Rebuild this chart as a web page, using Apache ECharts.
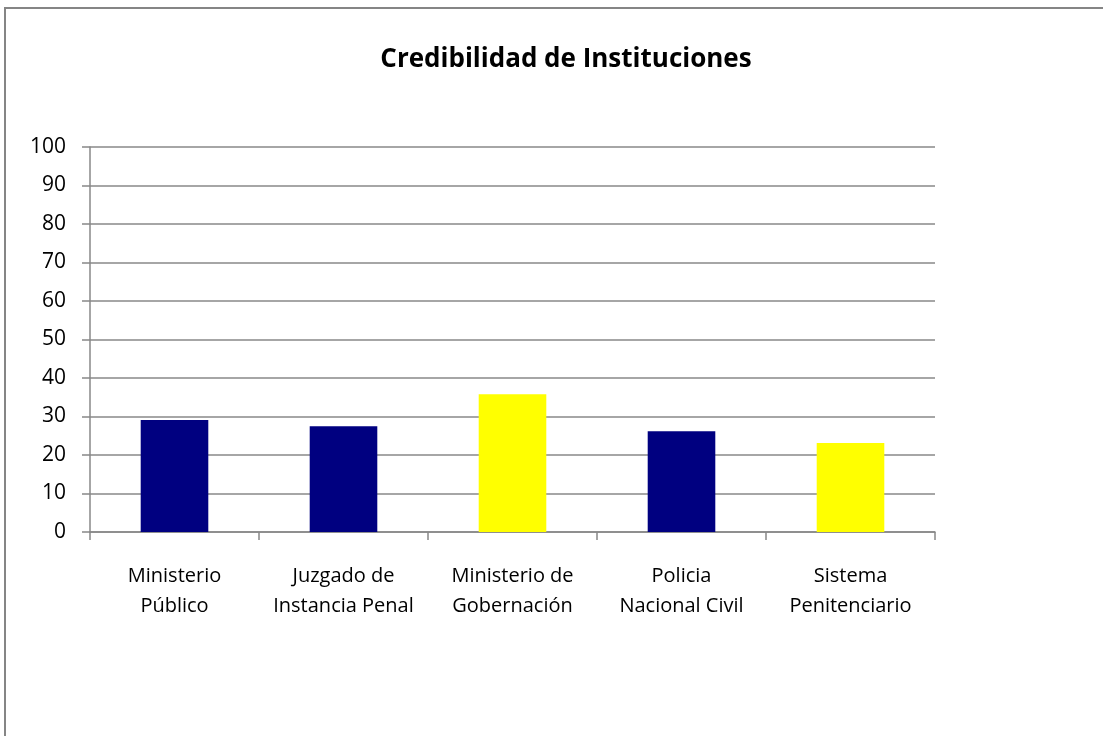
<!DOCTYPE html>
<html>
<head>
<meta charset="UTF-8">
<title>Credibilidad de Instituciones</title>
<script src="https://cdn.jsdelivr.net/npm/echarts@6/dist/echarts.min.js"></script>
<style>
  html, body { margin: 0; padding: 0; background: #fff; overflow: hidden; }
  #frame {
    position: absolute; left: 4px; top: 7px; width: 1200px; height: 900px;
    border: 2px solid #858585; box-sizing: border-box;
  }
  #chart { position: absolute; left: 0; top: 0; width: 1103px; height: 736px; }
</style>
</head>
<body>
<div id="frame"></div>
<div id="chart"></div>
<script>
// datos
var categorias = ['Ministerio\nPúblico', 'Juzgado de\nInstancia Penal', 'Ministerio de\nGobernación', 'Policia\nNacional Civil', 'Sistema\nPenitenciario'];
var valores = [29.1, 27.5, 35.8, 26.2, 23.1];
var colores = ['#000080', '#000080', '#ffff00', '#000080', '#ffff00'];

var chart = echarts.init(document.getElementById('chart'));
var barData = [];
for (var i = 0; i < valores.length; i++) {
  barData.push({ value: valores[i], itemStyle: { color: colores[i] } });
}
chart.setOption({
  animation: false,
  title: {
    text: 'Credibilidad de Instituciones',
    left: 561, top: 42, textAlign: 'center',
    textStyle: { fontFamily: 'Open Sans', fontWeight: 'bold', fontSize: 26, color: '#000' }
  },
  grid: { left: 90, right: 168, top: 147, bottom: 204 },
  xAxis: {
    type: 'category',
    data: categorias,
    axisLine: { lineStyle: { color: '#888', width: 1.5 } },
    axisTick: { show: true, length: 8, lineStyle: { color: '#888', width: 1.5 } },
    axisLabel: {
      color: '#000', fontSize: 20, fontFamily: 'Open Sans', lineHeight: 30,
      margin: 29, interval: 0
    }
  },
  yAxis: {
    type: 'value', min: 0, max: 100, interval: 10,
    axisLine: { show: true, lineStyle: { color: '#888', width: 1.5 } },
    axisTick: { show: true, length: 8, lineStyle: { color: '#888', width: 1.5 } },
    axisLabel: { color: '#000', fontSize: 21, fontFamily: 'Open Sans', margin: 24 },
    splitLine: { lineStyle: { color: '#888', width: 1.5 } }
  },
  series: [{
    type: 'bar',
    data: barData,
    barWidth: '40%'
  }]
});
</script>
</body>
</html>
